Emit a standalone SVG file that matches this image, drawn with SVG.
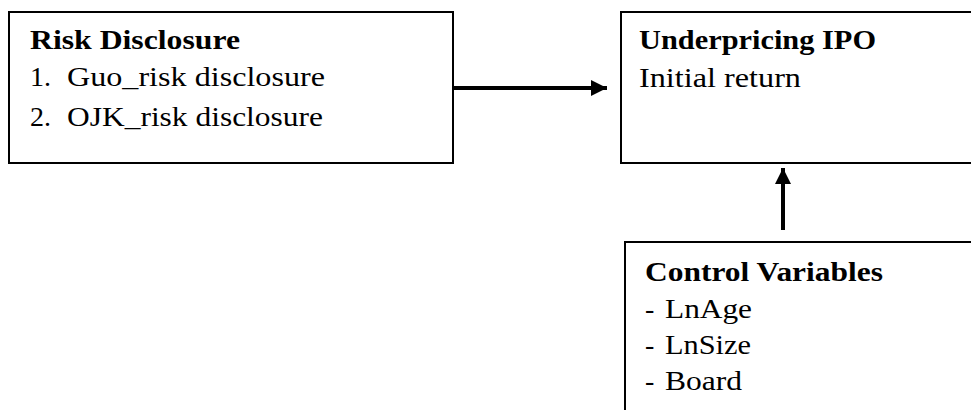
<svg xmlns="http://www.w3.org/2000/svg" width="971" height="410" viewBox="0 0 971 410">
<style>
.box{fill:#fff;stroke:#000;stroke-width:2}
.t{font-family:"Liberation Serif","DejaVu Serif",serif;font-size:28px;fill:#000}
.b{font-weight:bold}
.conn{stroke:#000;stroke-width:4;fill:none}
</style>
<defs>
<marker id="ah" viewBox="0 0 16 16" refX="16" refY="8" markerWidth="16" markerHeight="16" markerUnits="userSpaceOnUse" orient="auto">
<path d="M0,0 L16,8 L0,16 Z" fill="#000"/>
</marker>
</defs>
<g id="risk-disclosure">
<rect class="box" x="9" y="12" width="444" height="151"/>
<text class="t b" x="30" y="49" textLength="210" lengthAdjust="spacingAndGlyphs">Risk Disclosure</text>
<text class="t" x="30" y="86">1.</text>
<text class="t" x="67" y="86" textLength="258" lengthAdjust="spacingAndGlyphs">Guo_risk disclosure</text>
<text class="t" x="30" y="126">2.</text>
<text class="t" x="67" y="126" textLength="256" lengthAdjust="spacingAndGlyphs">OJK_risk disclosure</text>
</g>
<g id="underpricing-ipo">
<rect class="box" x="621" y="12" width="360" height="151"/>
<text class="t b" x="639" y="49" textLength="237" lengthAdjust="spacingAndGlyphs">Underpricing IPO</text>
<text class="t" x="639" y="87" textLength="162" lengthAdjust="spacingAndGlyphs">Initial return</text>
</g>
<g id="control-variables">
<rect class="box" x="625" y="242" width="360" height="180"/>
<text class="t b" x="645" y="281" textLength="238" lengthAdjust="spacingAndGlyphs">Control Variables</text>
<text class="t" x="645" y="318">-</text>
<text class="t" x="665" y="318" textLength="87" lengthAdjust="spacingAndGlyphs">LnAge</text>
<text class="t" x="645" y="354">-</text>
<text class="t" x="665" y="354" textLength="86" lengthAdjust="spacingAndGlyphs">LnSize</text>
<text class="t" x="645" y="390">-</text>
<text class="t" x="665" y="390" textLength="77" lengthAdjust="spacingAndGlyphs">Board</text>
</g>
<g id="connectors">
<line class="conn" x1="453" y1="88" x2="607" y2="88" marker-end="url(#ah)"/>
<line class="conn" x1="783" y1="230" x2="783" y2="168" marker-end="url(#ah)"/>
</g>
</svg>
